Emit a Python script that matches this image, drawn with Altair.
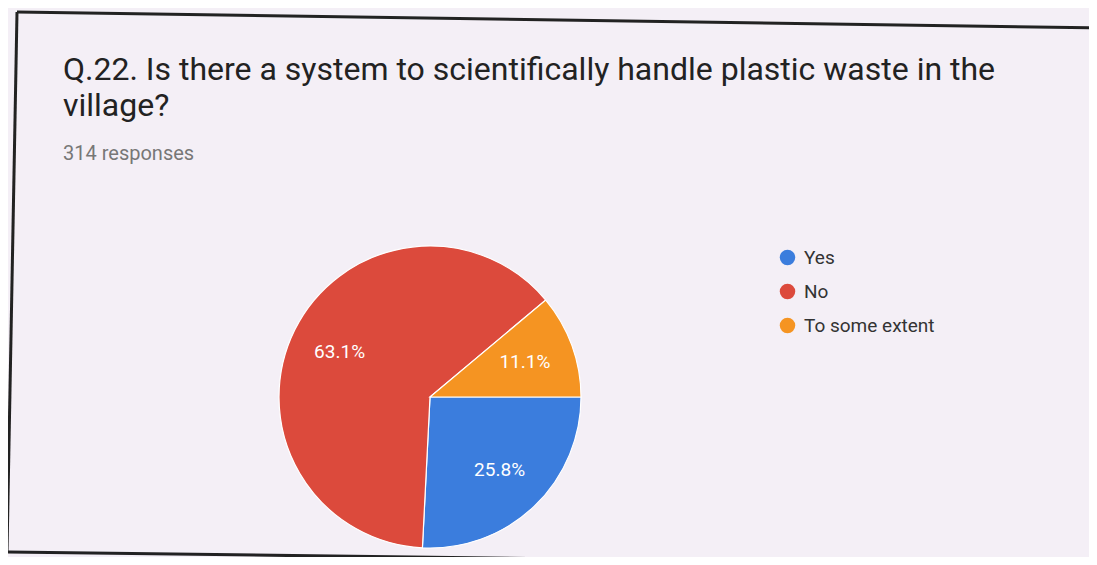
import math
import altair as alt
import pandas as pd

# ---- data ----
answers = ["Yes", "No", "To some extent"]
percents = [25.8, 63.1, 11.1]
slice_colors = ["#3b7ddd", "#dc4a3c", "#f59422"]
title_lines = [
    "Q.22. Is there a system to scientifically handle plastic waste in the",
    "village?",
]
subtitle_text = "314 responses"

df = pd.DataFrame({"answer": answers, "pct": percents, "idx": list(range(len(answers)))})
df["label"] = [f"{v:.1f}%" for v in percents]

W, H = 1081, 549
CX, CY, R = 422, 389, 151
PAPER = "#f4eff6"
INK = "#222222"

theta_scale = alt.Scale(range=[math.pi / 2, math.pi / 2 + 2 * math.pi])

base = alt.Chart(df).encode(
    theta=alt.Theta("pct:Q", stack=True, scale=theta_scale),
    order=alt.Order("idx:Q"),
)

pie = base.mark_arc(outerRadius=R, stroke="white", strokeWidth=1.2).encode(
    x=alt.value(CX),
    y=alt.value(CY),
    color=alt.Color(
        "answer:N",
        scale=alt.Scale(domain=answers, range=slice_colors),
        legend=alt.Legend(
            orient="none",
            legendX=770,
            legendY=240,
            title=None,
            symbolType="circle",
            symbolSize=240,
            symbolStrokeWidth=0,
            labelFont="Roboto",
            labelFontSize=19,
            labelColor="#333333",
            labelOffset=7,
            rowPadding=14,
        ),
    ),
)

labels = base.mark_text(
    radius=101, font="Roboto", fontSize=19, color="white", align="center", baseline="middle"
).encode(
    x=alt.value(CX),
    y=alt.value(CY),
    text=alt.Text("label:N"),
)


def text_layer(txt, x, y, size, color, weight="normal"):
    return alt.Chart(pd.DataFrame({"t": [txt]})).mark_text(
        align="left", baseline="alphabetic", font="Roboto", fontSize=size,
        color=color, fontWeight=weight,
    ).encode(x=alt.value(x), y=alt.value(y), text=alt.Text("t:N"))


def line_layer(x1, y1, x2, y2, width):
    return alt.Chart(pd.DataFrame({"k": [0]})).mark_rule(
        color=INK, strokeWidth=width
    ).encode(x=alt.value(x1), y=alt.value(y1), x2=alt.value(x2), y2=alt.value(y2))


title1 = text_layer(title_lines[0], 55, 72, 32, INK)
title2 = text_layer(title_lines[1], 55, 108, 32, INK)
subtitle = text_layer(subtitle_text, 55, 152, 20, "#777777")

frame_top = line_layer(9, 4, 1095, 20, 3)
frame_left = line_layer(9, 4, -1, 544, 3)
frame_bottom = line_layer(-1, 544, 880, 555, 3)

chart = alt.layer(
    frame_top, frame_left, frame_bottom, pie, labels, title1, title2, subtitle
).properties(
    width=W, height=H, background=PAPER,
    autosize=alt.AutoSizeParams(type="none"), padding=0,
).configure_view(stroke=None)

chart.save("out.html", embed_options={"renderer": "svg", "actions": False})
